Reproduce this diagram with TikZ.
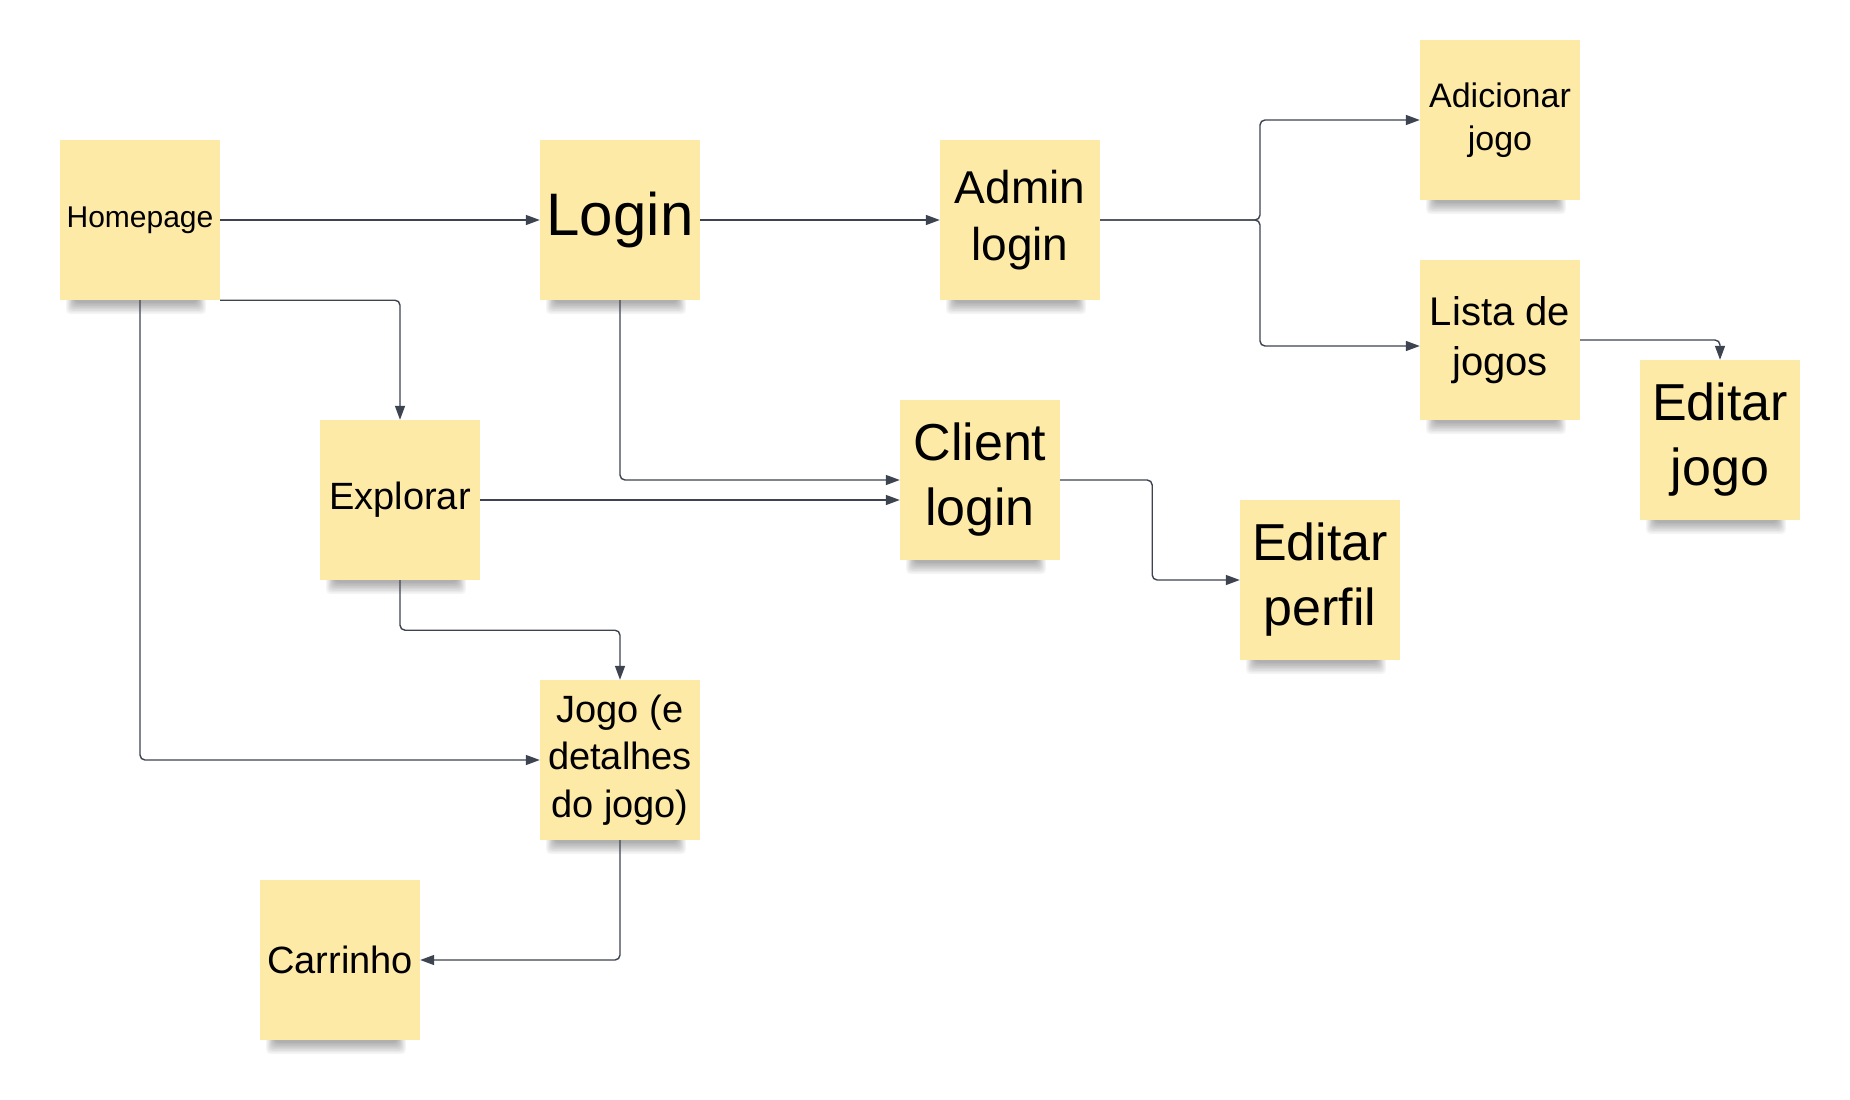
\documentclass[tikz,border=0pt]{standalone}
\usepackage{fontspec}
\setmainfont{Liberation Sans}
\usetikzlibrary{arrows.meta,calc,backgrounds}
\definecolor{sticky}{HTML}{FEEAA7}
\definecolor{linec}{HTML}{3D434F}
\tikzset{
  note/.style={fill=sticky, minimum width=160pt, minimum height=160pt, inner sep=0pt, align=center, text=black},
  conn/.style={draw=linec, line width=1.4pt, rounded corners=5pt, -{Triangle[length=14pt,width=10pt]}},
}
\begin{document}
\begin{tikzpicture}[x=1pt,y=-1pt]
\useasboundingbox (0,0) rectangle (1850,1100);
% notes
\node[note, font=\fontsize{30}{37.5}\selectfont] (home) at (140,220) {Homepage};
\node[note, font=\fontsize{60}{75}\selectfont] (login) at (620,220) {Login};
\node[note, font=\fontsize{46}{57.5}\selectfont] (admin) at (1020,220) {Admin\\login};
\node[note, font=\fontsize{34}{42.5}\selectfont] (add) at (1500,120) {Adicionar\\jogo};
\node[note, font=\fontsize{40}{50}\selectfont] (lista) at (1500,340) {Lista de\\jogos};
\node[note, font=\fontsize{52}{65}\selectfont] (editj) at (1720,440) {Editar\\jogo};
\node[note, font=\fontsize{52}{65}\selectfont] (client) at (980,480) {Client\\login};
\node[note, font=\fontsize{38}{47.5}\selectfont] (explorar) at (400,500) {Explorar};
\node[note, font=\fontsize{52}{65}\selectfont] (perfil) at (1320,580) {Editar\\perfil};
\node[note, font=\fontsize{38}{47.5}\selectfont] (jogo) at (620,760) {Jogo (e\\detalhes\\do jogo)};
\node[note, font=\fontsize{38}{47.5}\selectfont] (carrinho) at (340,960) {Carrinho};
% background and soft shadows
\begin{scope}[on background layer]
  \fill[white] (0,0) rectangle (1850,1100);
  \foreach \n in {home,login,admin,add,lista,editj,client,explorar,perfil,jogo,carrinho}{
    \foreach \k in {1,...,8}{
      \fill[black, opacity=0.045, rounded corners=4pt]
        ($(\n.south west)+(16-1.2*\k,-6)$) rectangle ($(\n.south east)+(-24+1.2*\k,1+1.6*\k)$);
    }
  }
\end{scope}
% connectors
\coordinate (split) at (1260,220);
\draw[conn] (home.east) -- (login.west);
\draw[conn] (login.east) -- (admin.west);
\draw[conn] (admin.east) -- (split) |- (add.west);
\draw[conn] (admin.east) -- (split) |- ($(lista.west)+(0,6)$);
\draw[conn] (lista.east) -| (editj.north);
\draw[conn] (home.south east) -| (explorar.north);
\draw[conn] (home.south) |- (jogo.west);
\draw[conn] (login.south) |- (client.west);
\draw[conn] (explorar.east) -- (explorar.east -| client.west);
\draw[conn] (client.east) -- ++(92,0) |- (perfil.west);
\draw[conn] (explorar.south) -- ++(0,50) -| (jogo.north);
\draw[conn] (jogo.south) |- (carrinho.east);
\end{tikzpicture}
\end{document}
